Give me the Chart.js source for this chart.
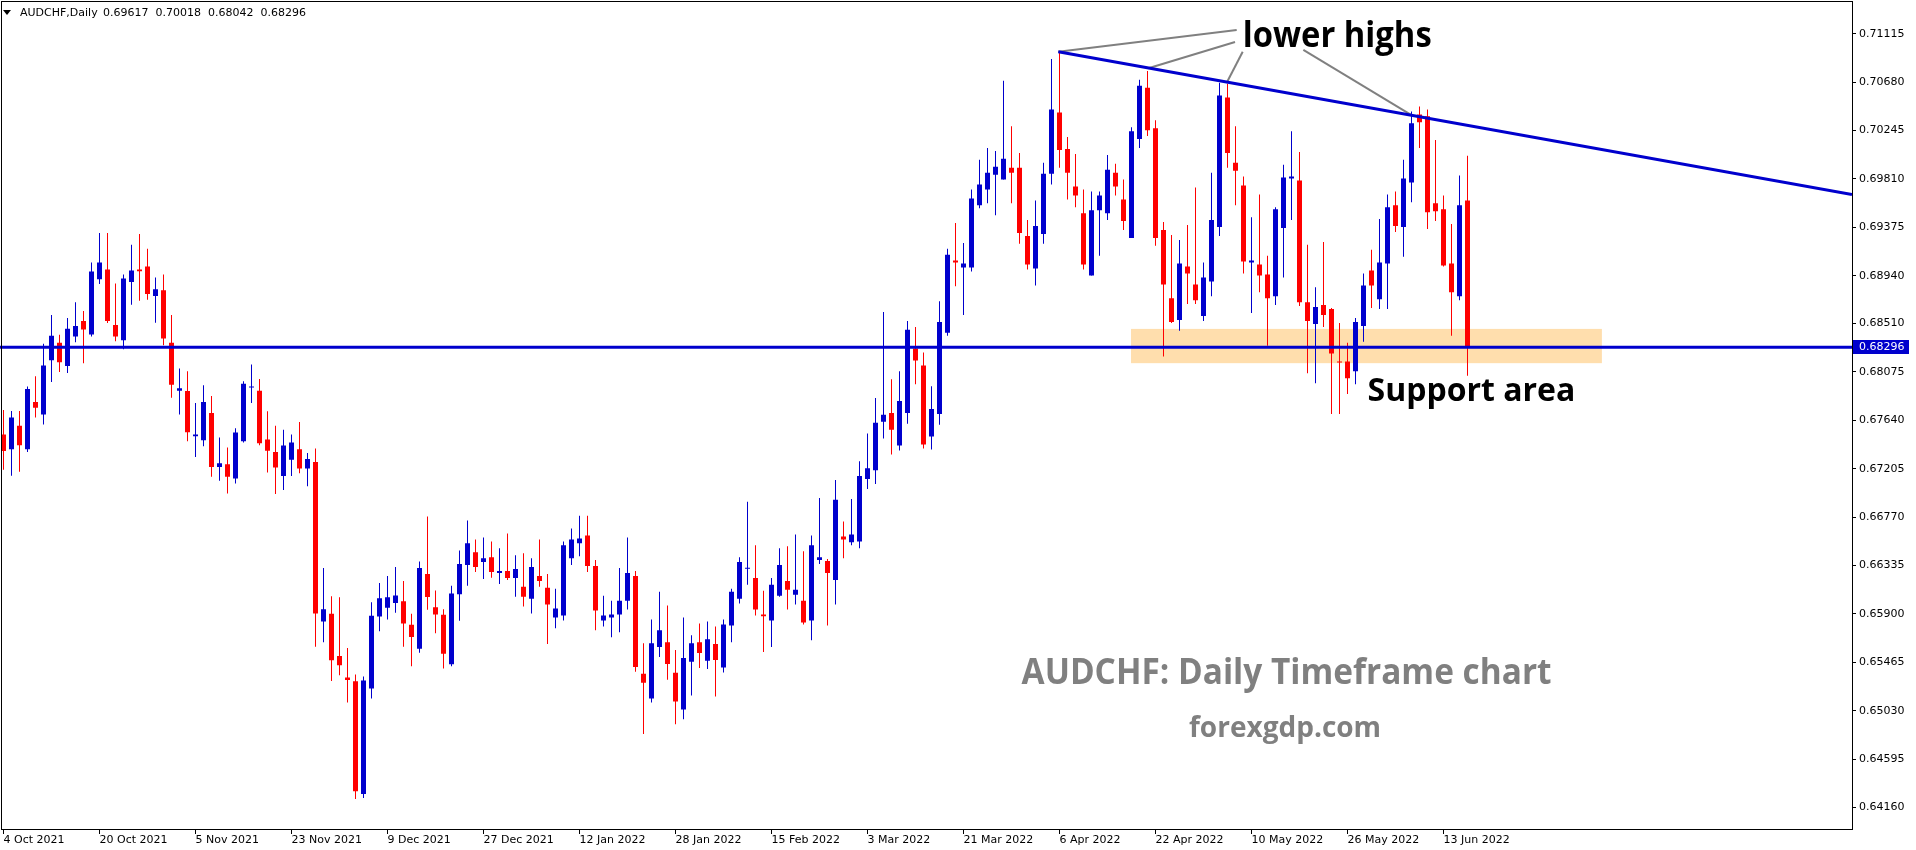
<!DOCTYPE html>
<html>
<head>
<meta charset="utf-8">
<title>AUDCHF Daily</title>
<script src="https://cdn.jsdelivr.net/npm/chart.js@4.4.1/dist/chart.umd.min.js"></script>
<style>
  html, body { margin: 0; padding: 0; background: #ffffff; }
  #wrap { width: 1916px; height: 850px; }
</style>
</head>
<body>
<div id="wrap"><canvas id="audchfChart" width="1916" height="850"></canvas></div>
<script>
// Daily candles, one per trading day starting 4 Oct 2021
const opens = [
  0.67512, 0.67381, 0.67592, 0.67381, 0.67805, 0.67692, 0.68181, 0.68338, 0.68128, 0.68394,
  0.68534, 0.68412, 0.68909, 0.68996, 0.68498, 0.68359, 0.68883, 0.68996, 0.69022, 0.68758,
  0.68809, 0.68338, 0.67905, 0.67903, 0.67497, 0.67461, 0.67707, 0.67221, 0.67245, 0.67117,
  0.67452, 0.67936, 0.67905, 0.67468, 0.67355, 0.67139, 0.67287, 0.67381, 0.67207, 0.67266,
  0.65833, 0.65901, 0.65522, 0.65329, 0.65294, 0.64281, 0.65229, 0.65877, 0.65955, 0.65999,
  0.66013, 0.65803, 0.65587, 0.66259, 0.65960, 0.65892, 0.65448, 0.66077, 0.66339, 0.66455,
  0.66366, 0.66410, 0.66268, 0.66286, 0.66224, 0.66144, 0.66037, 0.66242, 0.66135, 0.65868,
  0.65886, 0.66401, 0.66535, 0.66606, 0.66330, 0.65842, 0.65868, 0.65895, 0.66019, 0.66242,
  0.65362, 0.65140, 0.65602, 0.65646, 0.65371, 0.65042, 0.65471, 0.65646, 0.65480, 0.65629,
  0.65418, 0.65797, 0.66037, 0.66306, 0.66224, 0.65895, 0.65842, 0.66064, 0.66197, 0.66073,
  0.66019, 0.65842, 0.66384, 0.66375, 0.66206, 0.66597, 0.66544, 0.66552, 0.67112, 0.67192,
  0.67627, 0.67707, 0.67414, 0.67707, 0.68285, 0.68134, 0.67494, 0.67698, 0.68427, 0.69076,
  0.69013, 0.69013, 0.69573, 0.69715, 0.69848, 0.69804, 0.69911, 0.69911, 0.69298, 0.69004,
  0.69315, 0.69857, 0.70408, 0.70079, 0.69742, 0.69502, 0.68942, 0.69529, 0.69502, 0.69866,
  0.69626, 0.69280, 0.70168, 0.70630, 0.70266, 0.69351, 0.68738, 0.68542, 0.69022, 0.68862,
  0.68578, 0.68889, 0.69378, 0.70541, 0.69955, 0.69751, 0.69058, 0.69040, 0.68951, 0.68756,
  0.69369, 0.69813, 0.69795, 0.68702, 0.68507, 0.68676, 0.68640, 0.68169, 0.68169, 0.68081,
  0.68489, 0.68987, 0.68729, 0.69049, 0.69573, 0.69378, 0.69777, 0.70390, 0.70373, 0.69591,
  0.69537, 0.69049, 0.68756, 0.69617
];
const highs = [
  0.67734, 0.67725, 0.67725, 0.67945, 0.68036, 0.68329, 0.68587, 0.68409, 0.68560, 0.68702,
  0.68622, 0.69058, 0.69324, 0.69324, 0.68871, 0.68951, 0.69218, 0.69315, 0.69182, 0.68924,
  0.68951, 0.68587, 0.68107, 0.68081, 0.67796, 0.67956, 0.67858, 0.67485, 0.67396, 0.67570,
  0.67992, 0.68143, 0.68012, 0.67722, 0.67592, 0.67556, 0.67512, 0.67625, 0.67346, 0.67388,
  0.66313, 0.66058, 0.66049, 0.65593, 0.65356, 0.65338, 0.66004, 0.66179, 0.66242, 0.66321,
  0.66197, 0.65901, 0.66372, 0.66775, 0.66111, 0.65942, 0.66153, 0.66470, 0.66739, 0.66570,
  0.66588, 0.66552, 0.66490, 0.66624, 0.66428, 0.66446, 0.66401, 0.66570, 0.66259, 0.66126,
  0.66552, 0.66668, 0.66783, 0.66783, 0.66384, 0.66064, 0.66019, 0.66313, 0.66588, 0.66286,
  0.65637, 0.65851, 0.66099, 0.65975, 0.65575, 0.65868, 0.65708, 0.65815, 0.65833, 0.65788,
  0.65851, 0.66126, 0.66410, 0.66908, 0.66517, 0.66108, 0.66224, 0.66490, 0.66508, 0.66615,
  0.66464, 0.66606, 0.66943, 0.66393, 0.67103, 0.66730, 0.66934, 0.67272, 0.67521, 0.67841,
  0.68614, 0.68009, 0.68081, 0.68534, 0.68480, 0.68249, 0.67947, 0.68711, 0.69182, 0.69413,
  0.69235, 0.69715, 0.69982, 0.70088, 0.70062, 0.70692, 0.70284, 0.70044, 0.69440, 0.69617,
  0.69955, 0.70888, 0.70950, 0.70186, 0.70035, 0.69715, 0.69697, 0.69697, 0.70026, 0.69946,
  0.69804, 0.70275, 0.70701, 0.70781, 0.70337, 0.69422, 0.69306, 0.69262, 0.69395, 0.69733,
  0.69058, 0.69866, 0.70675, 0.70666, 0.70284, 0.69831, 0.69466, 0.69671, 0.69120, 0.69555,
  0.69937, 0.70239, 0.70053, 0.69218, 0.68836, 0.69244, 0.68649, 0.68516, 0.68338, 0.68560,
  0.68960, 0.69173, 0.69449, 0.69671, 0.69697, 0.69982, 0.70417, 0.70461, 0.70435, 0.70159,
  0.69662, 0.69404, 0.69840, 0.70018
];
const lows = [
  0.67195, 0.67141, 0.67177, 0.67355, 0.67666, 0.67603, 0.67985, 0.68074, 0.68065, 0.68341,
  0.68154, 0.68394, 0.68865, 0.68516, 0.68350, 0.68279, 0.68678, 0.68714, 0.68723, 0.68518,
  0.68314, 0.67843, 0.67692, 0.67452, 0.67310, 0.67408, 0.67133, 0.67097, 0.66982, 0.67072,
  0.67441, 0.67796, 0.67417, 0.67172, 0.66979, 0.67014, 0.67139, 0.67165, 0.67047, 0.65605,
  0.65646, 0.65297, 0.65350, 0.65104, 0.64236, 0.64245, 0.65140, 0.65744, 0.65851, 0.65910,
  0.65605, 0.65430, 0.65551, 0.65937, 0.65726, 0.65409, 0.65430, 0.65839, 0.66153, 0.66277,
  0.66215, 0.66226, 0.66170, 0.66206, 0.66055, 0.65966, 0.65904, 0.66144, 0.65629, 0.65771,
  0.65842, 0.66339, 0.66419, 0.66277, 0.65753, 0.65788, 0.65691, 0.65735, 0.65939, 0.65380,
  0.64820, 0.65104, 0.65513, 0.65309, 0.64909, 0.64953, 0.65167, 0.65415, 0.65406, 0.65158,
  0.65374, 0.65646, 0.65993, 0.66162, 0.65886, 0.65557, 0.65602, 0.66055, 0.65939, 0.65984,
  0.65806, 0.65664, 0.66348, 0.65797, 0.65984, 0.66401, 0.66517, 0.66490, 0.67023, 0.67068,
  0.67476, 0.67334, 0.67370, 0.67610, 0.67965, 0.67388, 0.67379, 0.67601, 0.68400, 0.68845,
  0.68587, 0.68978, 0.69546, 0.69591, 0.69484, 0.69804, 0.69591, 0.69227, 0.68996, 0.68853,
  0.69227, 0.69760, 0.69911, 0.69626, 0.69555, 0.68996, 0.68942, 0.69120, 0.69440, 0.69662,
  0.69351, 0.69280, 0.70088, 0.70195, 0.69209, 0.68214, 0.68516, 0.68445, 0.68685, 0.68685,
  0.68534, 0.68756, 0.69298, 0.69911, 0.69573, 0.68960, 0.68605, 0.68791, 0.68311, 0.68676,
  0.68924, 0.69440, 0.68667, 0.68063, 0.67974, 0.68480, 0.67698, 0.67698, 0.67876, 0.67965,
  0.68347, 0.68649, 0.68640, 0.68640, 0.69333, 0.69111, 0.69600, 0.70088, 0.69360, 0.69431,
  0.69022, 0.68400, 0.68720, 0.68042
];
const closes = [
  0.67364, 0.67666, 0.67417, 0.67921, 0.67754, 0.68134, 0.68400, 0.68163, 0.68463, 0.68489,
  0.68456, 0.68978, 0.69058, 0.68534, 0.68394, 0.68916, 0.68987, 0.68980, 0.68776, 0.68818,
  0.68376, 0.67959, 0.67929, 0.67532, 0.67512, 0.67805, 0.67221, 0.67254, 0.67133, 0.67530,
  0.67968, 0.67941, 0.67435, 0.67367, 0.67216, 0.67414, 0.67441, 0.67207, 0.67292, 0.65904,
  0.65942, 0.65484, 0.65439, 0.65306, 0.64307, 0.65302, 0.65883, 0.66040, 0.66049, 0.66066,
  0.65815, 0.65693, 0.66313, 0.66052, 0.65895, 0.65542, 0.66084, 0.66348, 0.66535, 0.66321,
  0.66401, 0.66277, 0.66286, 0.66224, 0.66304, 0.66055, 0.66321, 0.66197, 0.65984, 0.65948,
  0.66517, 0.66570, 0.66579, 0.66330, 0.65931, 0.65886, 0.65895, 0.66019, 0.66268, 0.65424,
  0.65282, 0.65637, 0.65753, 0.65451, 0.65113, 0.65504, 0.65637, 0.65549, 0.65673, 0.65486,
  0.65806, 0.66099, 0.66366, 0.66315, 0.65939, 0.65880, 0.66162, 0.66339, 0.66117, 0.66117,
  0.65824, 0.66517, 0.66410, 0.66268, 0.66926, 0.66570, 0.66615, 0.67139, 0.67210, 0.67619,
  0.67690, 0.67556, 0.67814, 0.68454, 0.68178, 0.67423, 0.67743, 0.68525, 0.69129, 0.69058,
  0.69049, 0.69635, 0.69760, 0.69866, 0.69919, 0.69991, 0.69866, 0.69324, 0.69040, 0.69386,
  0.69857, 0.70435, 0.70071, 0.69866, 0.69662, 0.69040, 0.69529, 0.69662, 0.69893, 0.69742,
  0.69431, 0.70239, 0.70648, 0.70248, 0.69280, 0.68862, 0.68525, 0.69049, 0.68960, 0.68720,
  0.68924, 0.69440, 0.70559, 0.70044, 0.69884, 0.69067, 0.69076, 0.68942, 0.68738, 0.69537,
  0.69822, 0.69831, 0.68702, 0.68534, 0.68658, 0.68587, 0.68240, 0.68160, 0.68018, 0.68525,
  0.68853, 0.68853, 0.69058, 0.69555, 0.69386, 0.69813, 0.70310, 0.70319, 0.69511, 0.69520,
  0.69031, 0.68791, 0.69573, 0.68296
];

// bottom axis: bar index of each date label
const dateTickIndex = [0, 12, 24, 36, 48, 60, 72, 84, 96, 108, 120, 132, 144, 156, 168, 180];
const dateTickLabels = [
  '4 Oct 2021', '20 Oct 2021', '5 Nov 2021', '23 Nov 2021', '9 Dec 2021', '27 Dec 2021',
  '12 Jan 2022', '28 Jan 2022', '15 Feb 2022', '3 Mar 2022', '21 Mar 2022', '6 Apr 2022',
  '22 Apr 2022', '10 May 2022', '26 May 2022', '13 Jun 2022'
];
// right axis price labels
const priceTicks = [
  0.71115, 0.70680, 0.70245, 0.69810, 0.69375, 0.68940, 0.68510, 0.68075, 0.67640,
  0.67205, 0.66770, 0.66335, 0.65900, 0.65465, 0.65030, 0.64595, 0.64160
];

// drawn objects (bar index, price)
const lastPrice = 0.68296;
const supportZone = { from: 140.94, to: 199.8, top: 0.68462, bottom: 0.68154 };
const trendLine = [{ x: 131.85, y: 0.70953 }, { x: 231.06, y: 0.69669 }];
const lowerHighPointers = [
  [{ x: 131.85, y: 0.70953 }, { x: 154.15, y: 0.71148 }],
  [{ x: 143.1, y: 0.70805 }, { x: 153.94, y: 0.71041 }],
  [{ x: 152.98, y: 0.70686 }, { x: 154.9, y: 0.70953 }],
  [{ x: 162.48, y: 0.70970 }, { x: 176.1, y: 0.70379 }]
];

const BULL = '#0000CD';
const BEAR = '#FF0000';
const X_MIN = -0.4375, X_MAX = 231.0625;
const Y_MIN = 0.63967, Y_MAX = 0.71332;

// text notes written on the chart
const notes = [
  { text: 'lower highs', x: 154.9, y: 0.70997, color: '#000000', size: 36, width: 189 },
  { text: 'Support area', x: 170.5, y: 0.67818, color: '#000000', size: 32, width: 212 },
  { text: 'AUDCHF: Daily Timeframe chart', x: 127.26, y: 0.65273, color: '#808080', size: 36, width: 530 },
  { text: 'forexgdp.com', x: 148.19, y: 0.64797, color: '#808080', size: 28, width: 195 }
];

const idx = opens.map((_, i) => i);
const candleColors = idx.map(i => closes[i] >= opens[i] ? BULL : BEAR);

const mtPlugin = {
  id: 'mtChart',
  beforeDatasetsDraw(chart) {
    const { ctx, scales: { x, y } } = chart;
    // support zone rectangle sits behind the candles
    const x1 = x.getPixelForValue(supportZone.from);
    const x2 = x.getPixelForValue(supportZone.to);
    const y1 = y.getPixelForValue(supportZone.top);
    const y2 = y.getPixelForValue(supportZone.bottom);
    ctx.save();
    ctx.fillStyle = '#FFDEAD';
    ctx.fillRect(x1, y1, x2 - x1, y2 - y1);
    ctx.restore();
  },
  afterDatasetsDraw(chart) {
    const { ctx, scales: { x, y } } = chart;
    ctx.save();
    ctx.textBaseline = 'alphabetic';
    ctx.textAlign = 'left';
    notes.forEach(n => {
      ctx.font = 'bold ' + n.size + 'px "Open Sans"';
      ctx.fillStyle = n.color;
      ctx.fillText(n.text, x.getPixelForValue(n.x), y.getPixelForValue(n.y), n.width);
    });
    ctx.restore();
  },
  afterDraw(chart) {
    const { ctx, chartArea: a, scales: { y } } = chart;
    ctx.save();
    // frame around the plot
    ctx.strokeStyle = '#000000';
    ctx.lineWidth = 1;
    ctx.strokeRect(1.5, 1.5, a.right - 1, a.bottom - 1);

    // current price box on the axis
    const py = Math.round(y.getPixelForValue(lastPrice));
    ctx.fillStyle = BULL;
    ctx.fillRect(a.right + 1, py - 7, 56, 14);
    ctx.fillStyle = '#ffffff';
    ctx.font = '11px "DejaVu Sans"';
    ctx.textBaseline = 'middle';
    ctx.fillText(lastPrice.toFixed(5), a.right + 7, py + 0.5);

    // symbol header, top left
    ctx.fillStyle = '#000000';
    ctx.beginPath();
    ctx.moveTo(3, 10); ctx.lineTo(11, 10); ctx.lineTo(7, 15); ctx.closePath();
    ctx.fill();
    ctx.fillText('AUDCHF,Daily', 20, 13);
    const last = opens.length - 1;
    ctx.fillText([opens[last], highs[last], lows[last], closes[last]].map(v => v.toFixed(5)).join('  '), 103, 13);
    ctx.restore();
  }
};

const lineSet = (data, color, width) => ({
  type: 'line',
  data: data,
  borderColor: color,
  borderWidth: width,
  pointRadius: 0,
  fill: false,
  order: 1
});

const ctx = document.getElementById('audchfChart').getContext('2d');
const audchfChart = new Chart(ctx, {
  type: 'bar',
  data: {
    datasets: [
      // wicks
      {
        data: idx.map(i => ({ x: i, y: [lows[i], highs[i]] })),
        backgroundColor: candleColors,
        barThickness: 1,
        grouped: false,
        borderWidth: 0,
        inflateAmount: 0,
        order: 4
      },
      // bodies
      {
        data: idx.map(i => ({ x: i, y: [opens[i], closes[i]] })),
        backgroundColor: candleColors,
        barThickness: 5,
        minBarLength: 1,
        grouped: false,
        borderWidth: 0,
        inflateAmount: 0,
        order: 3
      },
      lineSet([{ x: X_MIN, y: lastPrice }, { x: X_MAX, y: lastPrice }], BULL, 3),
      lineSet(trendLine, BULL, 3),
      ...lowerHighPointers.map(p => lineSet(p, '#808080', 2))
    ]
  },
  options: {
    responsive: false,
    animation: false,
    events: [],
    devicePixelRatio: 1,
    layout: { padding: 0 },
    plugins: {
      legend: { display: false },
      tooltip: { enabled: false }
    },
    scales: {
      x: {
        type: 'linear',
        offset: false,
        min: X_MIN,
        max: X_MAX,
        afterBuildTicks: scale => { scale.ticks = dateTickIndex.map(v => ({ value: v })); },
        afterFit: scale => { scale.height = 21; },
        ticks: {
          autoSkip: false,
          maxRotation: 0,
          minRotation: 0,
          align: 'start',
          padding: 0,
          color: '#000000',
          font: { family: 'DejaVu Sans', size: 11 },
          callback: (v, i) => dateTickLabels[i]
        },
        grid: { offset: false, drawOnChartArea: false, drawTicks: true, tickLength: 5, color: '#000000' },
        border: { display: false }
      },
      y: {
        position: 'right',
        min: Y_MIN,
        max: Y_MAX,
        afterBuildTicks: scale => { scale.ticks = priceTicks.map(v => ({ value: v })); },
        afterFit: scale => { scale.width = 64; },
        ticks: {
          padding: 3,
          color: '#000000',
          font: { family: 'DejaVu Sans', size: 11 },
          callback: v => v.toFixed(5)
        },
        grid: { drawOnChartArea: false, drawTicks: true, tickLength: 4, color: '#000000' },
        border: { display: false }
      }
    }
  },
  plugins: [mtPlugin]
});
</script>
</body>
</html>
